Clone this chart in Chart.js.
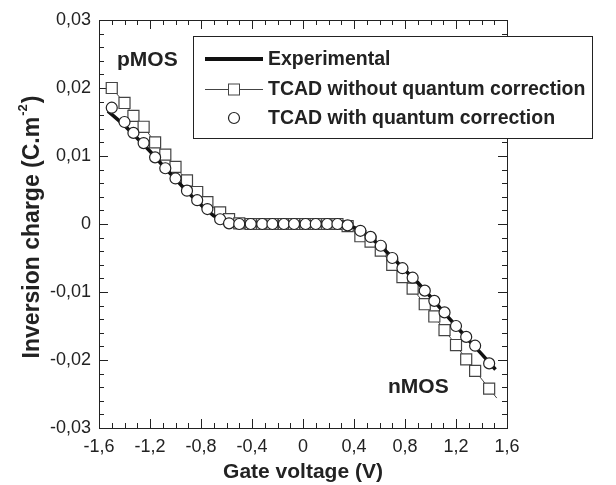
<!DOCTYPE html>
<html>
<head>
<meta charset="utf-8">
<script src="https://cdn.jsdelivr.net/npm/chart.js@4.4.0/dist/chart.umd.min.js"></script>
<style>
  html, body { margin: 0; padding: 0; background: #fff; }
</style>
</head>
<body>
<canvas id="myChart" width="616" height="485"></canvas>
<script>
// gate voltage of the TCAD points (V)
var gateVoltage = [-1.50, -1.40, -1.33, -1.25, -1.16, -1.08, -1.00, -0.91, -0.83, -0.75, -0.65, -0.58,
	-0.50, -0.41, -0.32, -0.24, -0.15, -0.07, 0.02, 0.10, 0.19, 0.27,
	0.35, 0.45, 0.53, 0.61, 0.70, 0.78, 0.86, 0.955, 1.03, 1.11, 1.20, 1.28, 1.35, 1.46];
// TCAD without quantum correction (C.m-2)
var chargeNoQC = [0.0200, 0.0178, 0.0159, 0.0143, 0.0120, 0.0102, 0.0084, 0.0064, 0.0047, 0.0032, 0.0017, 0.0007,
	0.0001, 0, 0, 0, 0, 0, 0, 0, 0, 0,
	-0.0003, -0.0018, -0.0026, -0.0039, -0.0060, -0.0078, -0.0095, -0.0118, -0.0136, -0.0156, -0.0178, -0.0199, -0.0216, -0.0242];
// TCAD with quantum correction (C.m-2)
var chargeQC = [0.0171, 0.0150, 0.0134, 0.0119, 0.0098, 0.0082, 0.0067, 0.0049, 0.0035, 0.0022, 0.0007, 0.0001,
	0, 0, 0, 0, 0, 0, 0, 0, 0, 0,
	-0.0002, -0.0010, -0.0019, -0.0032, -0.0050, -0.0065, -0.0079, -0.0098, -0.0113, -0.0130, -0.0150, -0.0166, -0.0179, -0.0205];
// line of the uncorrected TCAD run continues a bit past the last square
var noQCTailVoltage = [1.52];
var noQCTailCharge = [-0.0256];
// experimental curve
var expVoltage = [-1.53, -1.4, -1.3, -1.2, -1.1, -1.0, -0.9, -0.8, -0.7, -0.6, -0.5, 0.3, 0.4, 0.5, 0.6, 0.7, 0.8, 0.9, 1.0, 1.1, 1.2, 1.3, 1.4, 1.51];
var expCharge = [0.0166, 0.0145, 0.0126, 0.0107, 0.0086, 0.0066, 0.0046, 0.0028, 0.0012, 0.0002, 0, 0, -0.0005, -0.0016, -0.0031, -0.0049, -0.0068, -0.0086, -0.0107, -0.0129, -0.0150, -0.0171, -0.0191, -0.0214];

var xTicks = [-1.6, -1.2, -0.8, -0.4, 0, 0.4, 0.8, 1.2, 1.6];
var yTicks = [-0.03, -0.02, -0.01, 0, 0.01, 0.02, 0.03];
var legendLabels = ['Experimental', 'TCAD without quantum correction', 'TCAD with quantum correction'];

var FONT = '"Liberation Sans", Arial, sans-serif';

function toPoints(xs, ys) {
	var pts = [];
	for (var i = 0; i < xs.length; i++) pts.push({x: xs[i], y: ys[i]});
	return pts;
}
function fmt(v) { return String(v).replace('.', ','); }

var noQCPoints = toPoints(gateVoltage, chargeNoQC).concat(toPoints(noQCTailVoltage, noQCTailCharge));

var frameAndTicks = {
	id: 'frameAndTicks',
	beforeDatasetsDraw: function(chart) {
		var c = chart.ctx, a = chart.chartArea;
		var xs = chart.scales.x, ys = chart.scales.y;
		c.save();
		c.strokeStyle = '#222';
		c.lineWidth = 1;
		c.beginPath();
		var i, p, len;
		for (i = 0; i <= 32; i++) {
			p = Math.round(xs.getPixelForValue(-1.6 + i * 0.1)) + 0.5;
			len = (i % 4 === 0) ? 9 : 5;
			c.moveTo(p, a.bottom); c.lineTo(p, a.bottom - len);
			c.moveTo(p, a.top); c.lineTo(p, a.top + len);
		}
		for (i = 0; i <= 30; i++) {
			p = Math.round(ys.getPixelForValue(-0.03 + i * 0.002)) + 0.5;
			len = (i % 5 === 0) ? 9 : 5;
			c.moveTo(a.left, p); c.lineTo(a.left + len, p);
			c.moveTo(a.right, p); c.lineTo(a.right - len, p);
		}
		c.stroke();
		c.strokeRect(Math.round(a.left) + 0.5, Math.round(a.top) + 0.5, Math.round(a.right - a.left), Math.round(a.bottom - a.top));
		c.restore();
	},
	afterDraw: function(chart) {
		var c = chart.ctx, a = chart.chartArea;
		c.save();
		c.fillStyle = '#222';
		// x title
		c.font = 'bold 21px ' + FONT;
		c.textAlign = 'center';
		c.textBaseline = 'middle';
		c.fillText('Gate voltage (V)', (a.left + a.right) / 2, 472);
		// y title with superscript
		c.translate(31, 228);
		c.rotate(-Math.PI / 2);
		var t1 = 'Inversion charge (C.m', sup = '-2', t3 = ')';
		c.font = 'bold 23px ' + FONT;
		var w1 = c.measureText(t1).width, w3 = c.measureText(t3).width;
		c.font = 'bold 13px ' + FONT;
		var w2 = c.measureText(sup).width;
		var x0 = -(w1 + w2 + w3) / 2;
		c.textAlign = 'left';
		c.textBaseline = 'alphabetic';
		c.font = 'bold 23px ' + FONT;
		c.fillText(t1, x0, 8);
		c.font = 'bold 13px ' + FONT;
		c.fillText(sup, x0 + w1 + 1, -4);
		c.font = 'bold 23px ' + FONT;
		c.fillText(t3, x0 + w1 + w2 + 2, 8);
		c.restore();

		// pMOS / nMOS labels
		c.save();
		c.fillStyle = '#222';
		c.font = 'bold 21px ' + FONT;
		c.textBaseline = 'middle';
		c.textAlign = 'left';
		c.fillText('pMOS', 117, 60);
		c.fillText('nMOS', 388, 387);

		// legend box
		var bx = 193, by = 36, bw = 399, bh = 102;
		c.fillStyle = '#fff';
		c.fillRect(bx, by, bw, bh);
		c.strokeStyle = '#222';
		c.lineWidth = 1;
		c.strokeRect(bx + 0.5, by + 0.5, bw, bh);
		var rows = [59, 89, 118];
		var sx0 = 205, sx1 = 263, sm = 234;
		// experimental
		c.strokeStyle = '#111';
		c.lineWidth = 4;
		c.beginPath(); c.moveTo(sx0, rows[0]); c.lineTo(sx1, rows[0]); c.stroke();
		// squares
		c.strokeStyle = '#444';
		c.lineWidth = 1;
		c.beginPath(); c.moveTo(sx0, rows[1] + 0.5); c.lineTo(sx1, rows[1] + 0.5); c.stroke();
		c.fillStyle = '#fff';
		c.fillRect(sm - 5.5, rows[1] - 5, 11, 11);
		c.strokeRect(sm - 5.5, rows[1] - 5, 11, 11);
		// circles
		c.strokeStyle = '#222';
		c.lineWidth = 1.2;
		c.beginPath(); c.arc(sm, rows[2], 5.5, 0, Math.PI * 2); c.fill(); c.stroke();
		c.fillStyle = '#222';
		c.font = 'bold 19.5px ' + FONT;
		for (var k = 0; k < 3; k++) c.fillText(legendLabels[k], 268, rows[k] + 1);
		c.restore();
	}
};

var ctx = document.getElementById('myChart');
var chart = new Chart(ctx, {
	type: 'scatter',
	data: {
		datasets: [
			{
				label: legendLabels[2],
				data: toPoints(gateVoltage, chargeQC),
				showLine: false,
				pointStyle: 'circle',
				pointRadius: 5.5,
				pointBackgroundColor: '#fff',
				pointBorderColor: '#222',
				pointBorderWidth: 1.2
			},
			{
				label: legendLabels[0],
				data: toPoints(expVoltage, expCharge),
				showLine: true,
				borderColor: '#111',
				borderWidth: 3.5,
				pointRadius: 0
			},
			{
				label: legendLabels[1],
				data: noQCPoints,
				showLine: true,
				borderColor: '#444',
				borderWidth: 1,
				pointStyle: 'rect',
				pointRadius: function(c) { return c.dataIndex < gateVoltage.length ? 7.8 : 0; },
				pointBackgroundColor: '#fff',
				pointBorderColor: '#444',
				pointBorderWidth: 1.2
			}
		]
	},
	options: {
		responsive: false,
		animation: false,
		devicePixelRatio: 1,
		layout: { padding: { left: 0, top: 20, right: 109, bottom: 0 } },
		plugins: {
			legend: { display: false },
			tooltip: { enabled: false }
		},
		scales: {
			x: {
				type: 'linear',
				min: -1.6, max: 1.6,
				grid: { display: false, drawTicks: false },
				border: { display: false },
				afterBuildTicks: function(s) { s.ticks = xTicks.map(function(v) { return {value: v}; }); },
				afterFit: function(s) { s.height = 57; },
				ticks: {
					padding: 8,
					color: '#222',
					maxRotation: 0,
					font: { family: FONT, size: 18 },
					callback: function(v) { return fmt(v); }
				}
			},
			y: {
				type: 'linear',
				min: -0.03, max: 0.03,
				grid: { display: false, drawTicks: false },
				border: { display: false },
				afterBuildTicks: function(s) { s.ticks = yTicks.map(function(v) { return {value: v}; }); },
				afterFit: function(s) { s.width = 99; },
				ticks: {
					padding: 8,
					color: '#222',
					font: { family: FONT, size: 18 },
					callback: function(v) { return fmt(v); }
				}
			}
		}
	},
	plugins: [frameAndTicks]
});
</script>
</body>
</html>
